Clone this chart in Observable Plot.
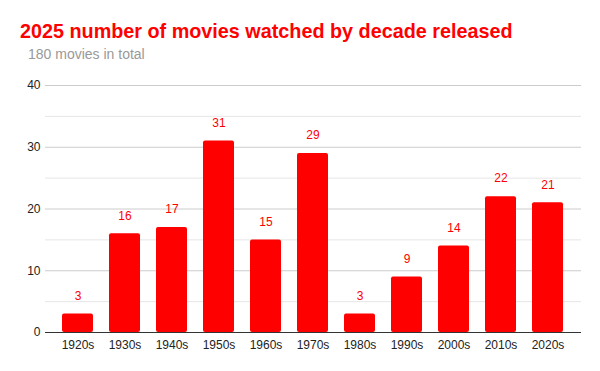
<!DOCTYPE html>
<html>
<head>
<meta charset="utf-8">
<script src="https://cdn.jsdelivr.net/npm/d3@7"></script>
<script src="https://cdn.jsdelivr.net/npm/@observablehq/plot@0.6"></script>
<style>
  html, body { margin: 0; padding: 0; background: #fff; }
  body { width: 600px; height: 371px; overflow: hidden; font-family: "Liberation Sans", Arial, sans-serif; }
  #title { padding: 19px 0 0 20px; font-size: 19.8px; line-height: 24px; font-weight: bold; color: #ff0000; height: 24px; white-space: nowrap; }
  #subtitle { margin-top: 3px; padding-left: 28px; font-size: 14px; line-height: 17px; color: #999999; height: 17px; }
  #chart svg { display: block; }
</style>
</head>
<body>
<div id="title"></div>
<div id="subtitle"></div>
<div id="chart"></div>
<script>
const titleText = "2025 number of movies watched by decade released";
const subtitleText = "180 movies in total";
const decades = ["1920s","1930s","1940s","1950s","1960s","1970s","1980s","1990s","2000s","2010s","2020s"];
const counts = [3, 16, 17, 31, 15, 29, 3, 9, 14, 22, 21];
const majorTicks = [0, 10, 20, 30, 40];
const minorTicks = [5, 15, 25, 35];

document.getElementById("title").textContent = titleText;
document.getElementById("subtitle").textContent = subtitleText;

const data = decades.map((d, i) => ({decade: d, count: counts[i]}));

const chart = Plot.plot({
  width: 600,
  height: 308,
  marginTop: 22,
  marginBottom: 39,
  marginLeft: 45,
  marginRight: 19,
  style: {fontFamily: "Liberation Sans, Arial, sans-serif", fontSize: "12px", color: "#222", background: "#fff"},
  x: {domain: decades, padding: 0.34, label: null, tickSize: 0, tickPadding: 8},
  y: {domain: [0, 40], ticks: majorTicks, label: null, tickSize: 0, tickPadding: 5},
  marks: [
    Plot.gridY(minorTicks, {stroke: "#e6e6e6", strokeOpacity: 1}),
    Plot.gridY(majorTicks, {stroke: "#cccccc", strokeOpacity: 1}),
    Plot.barY(data, {x: "decade", y: "count", fill: "#ff0000", rx: 2}),
    Plot.ruleY([0], {stroke: "#333333"}),
    Plot.text(data, {x: "decade", y: "count", text: d => String(d.count), fill: "#ff0000", dy: -18, fontSize: 12}),
    Plot.axisX({tickSize: 0, tickPadding: 8, fill: "#222", fontSize: 12}),
    Plot.axisY({ticks: majorTicks, tickSize: 0, tickPadding: 5, fill: "#222", fontSize: 12})
  ]
});
document.getElementById("chart").appendChild(chart);
</script>
</body>
</html>
